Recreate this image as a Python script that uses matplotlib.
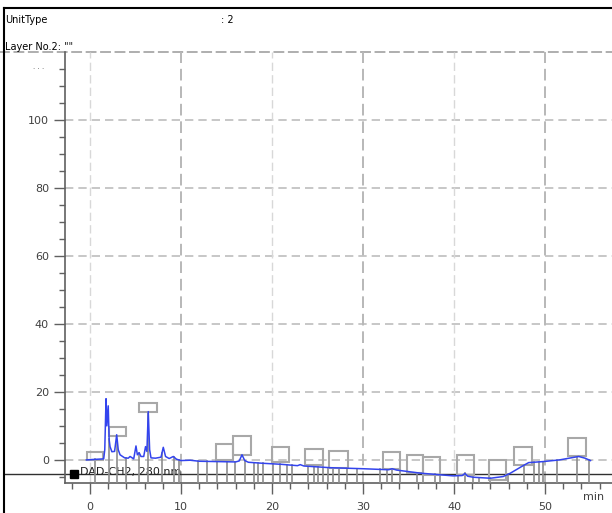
import matplotlib
matplotlib.use("Agg")
import matplotlib.pyplot as plt
from matplotlib.patches import Rectangle
from matplotlib.lines import Line2D
import numpy as np

# signal trace (min, mAU)
trace_t = [-0.4, 1.5, 1.62, 1.76, 1.85, 2.0, 2.1, 2.2, 2.4, 2.7, 2.93, 3.1, 3.3,
           3.8, 4.2, 4.4, 4.8, 5.05, 5.2, 5.4, 5.6, 5.9, 6.1, 6.25, 6.4, 6.55,
           6.7, 7.2, 7.8, 8.05, 8.3, 8.7, 9.15, 9.5, 10.0, 11.0, 12.0, 14.0,
           16.0, 16.4, 16.7, 17.0, 17.4, 19.0, 21.0, 22.8, 23.1, 23.5, 26.4,
           30.0, 32.8, 33.2, 33.7, 36.3, 39.9, 40.9, 41.2, 41.5, 42.1, 44.0,
           45.4, 46.2, 47.4, 48.2, 49.8, 51.6, 53.7, 54.4, 55.0]
trace_v = [0, 0.3, 3, 18, 10, 15.9, 6, 3.9, 2.4, 2.5, 7.4, 3, 1.5,
           0.6, 0.5, 1.0, 0.3, 4.1, 1.5, 2.1, 1.0, 1.0, 3.9, 2.5, 14.2, 3,
           0.6, 0.5, 0.8, 3.7, 1.0, 0.4, 1.0, 0.2, -0.2, -0.1, -0.4, -0.5,
           -0.6, -0.3, 1.5, -0.2, -0.7, -1.0, -1.3, -1.7, -1.4, -1.8, -2.3,
           -2.6, -2.9, -2.6, -3.0, -3.9, -4.7, -4.6, -4.0, -4.8, -5.1, -5.4,
           -4.9, -3.9, -2.0, -0.8, -0.5, 0.0, 1.0, 0.5, -0.2]

# peak label boxes: (t start, t end, v bottom, v top)
label_boxes = [(-0.37, 1.46, 0.0, 2.4), (2.1, 3.9, 7.1, 9.8), (5.4, 7.4, 14.0, 16.7),
               (13.8, 15.75, 0.0, 4.7), (15.75, 17.66, 1.5, 7.1), (19.97, 21.87, -0.7, 3.7),
               (23.6, 25.6, -1.5, 3.1), (26.3, 28.3, -2.4, 2.7), (32.2, 34.1, -2.7, 2.4),
               (34.8, 36.6, -3.9, 1.5), (36.6, 38.5, -4.4, 0.8), (40.3, 42.2, -4.4, 1.5),
               (43.8, 45.7, -5.9, 0.0), (46.6, 48.6, -1.5, 3.9), (52.5, 54.5, 1.0, 6.3)]

# integration marks
peak_marks = [0.55, 2.1, 3.0, 4.0, 5.4, 6.4, 7.9, 9.2, 9.8, 11.9, 12.8, 13.9, 15.0,
              15.9, 17.0, 18.0, 18.5, 19.0, 20.1, 20.9, 21.6, 22.2, 24.0, 24.6,
              25.1, 25.6, 26.2, 26.7, 27.4, 28.2, 29.3, 31.9, 32.6, 33.2, 34.1,
              35.9, 36.6, 37.9, 38.5, 40.4, 41.2, 42.1, 42.7, 43.9, 45.9, 47.7,
              48.8, 49.3, 49.8, 51.3, 53.5, 54.8]

y_ticks = [0, 20, 40, 60, 80, 100]
x_ticks = [0, 10, 20, 30, 40, 50]

W, H = 612, 513
fig = plt.figure(figsize=(W / 100, H / 100), dpi=100)
ax = fig.add_axes([65 / W, 30 / H, 547 / W, 431 / H])
ax.set_xlim(-2.75, 57.36)
ax.set_ylim(-6.8, 120)

tick_color = "#404040"
for s in ["top", "right"]:
    ax.spines[s].set_visible(False)
ax.spines["left"].set_color("#606060")
ax.spines["bottom"].set_color("#606060")
ax.spines["left"].set_linewidth(1.2)
ax.spines["bottom"].set_linewidth(1.2)

ax.set_yticks(y_ticks)
ax.set_yticks(np.arange(-5, 120, 5), minor=True)
ax.set_xticks(x_ticks)
ax.set_xticks(np.arange(-2, 58, 2), minor=True)
ax.tick_params(axis="both", which="major", length=8, width=1, color="#606060",
               labelsize=8, labelcolor=tick_color)
ax.tick_params(axis="both", which="minor", length=4, width=1, color="#606060")
ax.tick_params(axis="x", pad=6)

# grid
for v in y_ticks:
    ax.axhline(v, color="#bdbdbd", lw=1.2, ls=(0, (5, 3)), zorder=1)
ax.axhline(120, color="#a8a8a8", lw=1.3, ls=(0, (6, 2)), zorder=1, clip_on=False,
           xmin=-0.12, xmax=1)
for t in x_ticks:
    if t % 20 == 10:
        ax.axvline(t, color="#b8b8b8", lw=1.4, ls=(0, (6, 3)), zorder=1)
    else:
        ax.axvline(t, color="#d8d8d8", lw=1.0, ls=(0, (6, 3)), zorder=1)

# baseline line crossing the whole window
ax.axhline(-4.1, color="#303030", lw=1.0, zorder=2, clip_on=False, xmin=-0.11, xmax=1)

# legend text
ax.plot([-1.8], [-4.1], marker="s", color="black", ms=6, clip_on=False, zorder=3)
ax.text(-1.1, -3.5, "DAD-CH2, 280 nm", fontsize=8, color="#202020", va="center",
        ha="left", zorder=2)

# integration marks
for t in peak_marks:
    top = np.interp(t, trace_t, trace_v)
    ax.plot([t, t], [top, -6.8], color="#8c8c8c", lw=1.2, zorder=3)

# label boxes
for t0, t1, v0, v1 in label_boxes:
    ax.add_patch(Rectangle((t0, v0), t1 - t0, v1 - v0, fill=False,
                           edgecolor="#a8a8a8", lw=1.5, zorder=4))

ax.plot(trace_t, trace_v, color="#3344ee", lw=1.1, zorder=5)

ax.text(55.3, -10.8, "min", fontsize=8, color=tick_color, ha="center", va="center")
ax.text(-5.7, 115, "· · ·", fontsize=5, color="#606060", ha="center", va="center",
        clip_on=False)

# window header
fig.add_artist(Line2D([4 / W, 1], [1 - 8 / H, 1 - 8 / H], color="black", lw=1.5))
fig.add_artist(Line2D([4 / W, 4 / W], [0, 1 - 8 / H], color="black", lw=1.5))
fig.text(5 / W, 1 - 20 / H, "UnitType", fontsize=7, va="center", ha="left")
fig.text(221 / W, 1 - 20 / H, ": 2", fontsize=7, va="center", ha="left")
fig.text(5 / W, 1 - 47 / H, "Layer No.2: \"\"", fontsize=7, va="center", ha="left")

fig.savefig("out.png", dpi=100)
